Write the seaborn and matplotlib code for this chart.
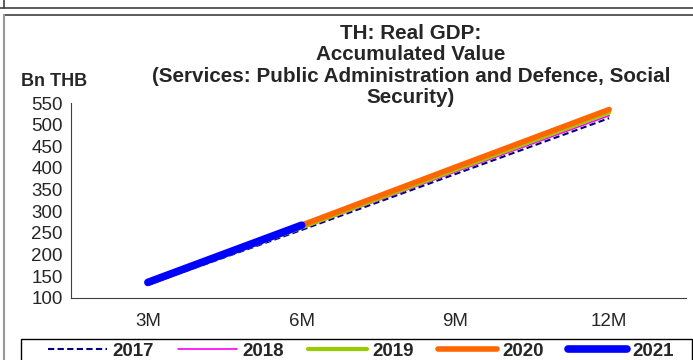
import matplotlib
matplotlib.use("Agg")
import matplotlib.pyplot as plt
from matplotlib.lines import Line2D
from matplotlib.patches import Rectangle
import numpy as np
import pandas as pd
import seaborn as sns

# data (Bn THB, accumulated)
periods = ['3M', '6M', '9M', '12M']
years = ['2017', '2018', '2019', '2020', '2021']
v2017 = [131, 257, 386, 515]
v2018 = [132, 260, 391, 521]
v2019 = [133, 263, 396, 528]
v2020 = [134, 268, 402, 535]
v2021 = [136, 268]

series = {'2017': v2017, '2018': v2018, '2019': v2019, '2020': v2020, '2021': v2021}

rows = []
for y in years:
    for p, v in zip(periods, series[y]):
        rows.append({'period': p, 'year': y, 'value': v})
df = pd.DataFrame(rows)

styles = {
    '2017': dict(color='#000080', lw=1.5, ls=(0, (3, 1.6))),
    '2018': dict(color='#FF00FF', lw=1.2, ls='-'),
    '2019': dict(color='#99CC00', lw=3.0, ls='-'),
    '2020': dict(color='#FF6600', lw=4.0, ls='-'),
    '2021': dict(color='#0000FF', lw=5.5, ls='-'),
}

sns.set_style('white')
plt.rcParams['font.family'] = ['Liberation Sans', 'DejaVu Sans']

W, H = 693, 360
fig = plt.figure(figsize=(W / 100, H / 100), dpi=100)
ax = fig.add_axes([71 / W, 1 - 298 / H, (686 - 71) / W, (298 - 103) / H])

order = {p: i for i, p in enumerate(periods)}
handles = []
for y in years:
    d = df[df['year'] == y].copy()
    d['x'] = d['period'].map(order)
    st = styles[y]
    sns.lineplot(data=d, x='x', y='value', ax=ax, color=st['color'],
                 linewidth=st['lw'], linestyle=st['ls'], legend=False,
                 solid_capstyle='round', dash_capstyle='butt')
    handles.append(Line2D([], [], color=st['color'], lw=st['lw'], ls=st['ls'],
                          solid_capstyle='round'))

ax.set_xlim(-0.5, 3.5)
ax.set_ylim(100, 550)
ax.set_yticks(np.arange(100, 551, 50))
ax.set_xticks(np.arange(-0.5, 3.6, 1))
ax.set_xticklabels([])
ax.set_xticks(range(len(periods)), minor=True)
ax.set_xticklabels(periods, minor=True)
ax.tick_params(axis='x', which='major', length=4, width=0.8, color='#404040', direction='out')
ax.tick_params(axis='x', which='minor', length=0, labelsize=13.5, pad=11)
ax.tick_params(axis='y', length=4, width=0.8, color='#404040', direction='out', labelsize=13.5, pad=2)
ax.set_xlabel('')
ax.set_ylabel('')
for s in ['top', 'right']:
    ax.spines[s].set_visible(False)
for s in ['left', 'bottom']:
    ax.spines[s].set_color('#404040')
    ax.spines[s].set_linewidth(0.8)

fig.text(21 / W, 1 - 81 / H, 'Bn THB', fontsize=13, fontweight='bold', va='center', ha='left')
fig.text(411 / W, 1 - 24 / H,
         'TH: Real GDP:\nAccumulated Value\n(Services: Public Administration and Defence, Social\nSecurity)',
         fontsize=14.9, fontweight='bold', ha='center', va='top', linespacing=1.16)

leg = fig.legend(handles, years, loc='center left', ncol=5, mode='expand',
                 bbox_to_anchor=(48 / W, 1 - 351 / H, (674 - 48) / W, 0),
                 borderaxespad=0, borderpad=0, frameon=False,
                 prop={'weight': 'bold', 'size': 13.5}, handlelength=3.15,
                 handletextpad=0.27, columnspacing=1.0)

# legend frame, running past the bottom edge as in the reference
fig.add_artist(Rectangle((21 / W, -0.05), (692 - 21) / W, 1 - 339 / H + 0.05,
                         transform=fig.transFigure, fill=False, edgecolor='black', lw=1.0))

# outer frame lines
fig.add_artist(Line2D([0, 1], [1 - 8 / H, 1 - 8 / H], color='#404040', lw=1.2))
fig.add_artist(Line2D([4 / W, 4 / W], [1, 1 - 8 / H], color='#404040', lw=1.2))
fig.add_artist(Line2D([4 / W, 1], [1 - 15 / H, 1 - 15 / H], color='#404040', lw=1.2))
fig.add_artist(Line2D([4 / W, 4 / W], [0, 1 - 15 / H], color='#999999', lw=1.5))

fig.savefig('out.png', dpi=100)
